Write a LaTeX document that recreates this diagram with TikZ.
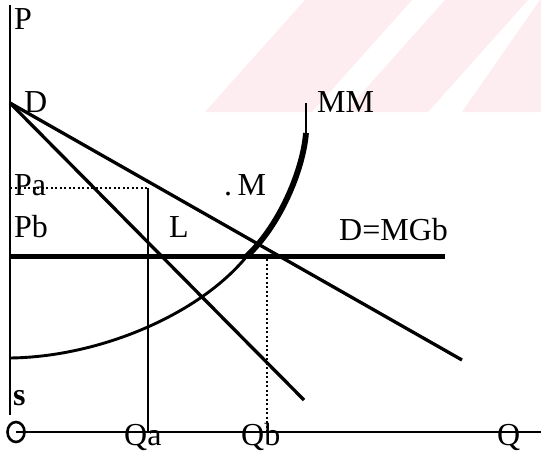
\documentclass[tikz,border=0pt]{standalone}
\usepackage{fontspec}
\setmainfont{Liberation Serif}
\definecolor{wm}{HTML}{FDEDF0}
\begin{document}
\begin{tikzpicture}[x=1pt,y=-1pt,
  lbl/.style={inner sep=0pt, anchor=base west, font=\fontsize{32}{36}\selectfont},
  paxis/.style={line width=2.1pt},
  qaxis/.style={line width=2.6pt},
  demand/.style={line width=3.3pt},
  mgb/.style={line width=5pt},
  dots/.style={line width=1.7pt, dash pattern=on 2pt off 2.5pt},
  band/.style={fill=wm, draw=none}]
\fill[white] (0,0) rectangle (541,452);
\useasboundingbox (0,0) rectangle (541,452);
% watermark
\begin{scope}
\clip (0,0) rectangle (541,112);
\fill[band] (305,0) -- (412,0) -- (312,112) -- (205,112) -- cycle;
\fill[band] (445,0) -- (528,0) -- (428,112) -- (345,112) -- cycle;
\fill[band] (540,0) -- (700,0) -- (600,112) -- (462,112) -- cycle;
\end{scope}
% coordinates
\coordinate (Ptop) at (10,5);
\coordinate (Pbot) at (10,415);
\coordinate (Dpt) at (10,103);
\coordinate (Dend1) at (304,400);
\coordinate (Dend2) at (462,360);
\coordinate (PaL) at (10,188);
\coordinate (PaR) at (148,188);
\coordinate (QaB) at (148,432);
\coordinate (MGbL) at (10,256);
\coordinate (MGbR) at (445,256);
\coordinate (QbT) at (267,259);
\coordinate (QbB) at (267,432);
\coordinate (Sstart) at (10,358);
\coordinate (Mjoin) at (247,256);
\coordinate (MMmid) at (306,133);
\coordinate (MMtop) at (306,103);
\coordinate (Oc) at (16,432);
\coordinate (Qright) at (541,432);
% axes
\draw[paxis] (Ptop) -- (Pbot);
\draw[qaxis] (Oc) -- (Qright);
\draw[line width=2.6pt] (Oc) ellipse [x radius=8.5, y radius=10];
% dotted guides
\draw[dots] (PaL) -- (PaR);
\draw[line width=2pt] (PaR) -- (QaB);
\draw[dots] (QbT) -- (QbB);
% demand lines
\draw[demand] (Dpt) -- (Dend1);
\draw[demand] (Dpt) -- (Dend2);
% D = MGb
\draw[mgb] (MGbL) -- (MGbR);
% MM curve
\draw[line width=2.9pt] (Sstart) .. controls (100,357) and (200,314) .. (Mjoin);
\draw[line width=5.8pt] (Mjoin) .. controls (280,225) and (303,170) .. (MMmid);
\draw[line width=2.4pt] (MMmid) -- (MMtop);
% labels
\node[lbl] (lP) at (14,30) {P};
\node[lbl] (lD) at (24,113) {D};
\node[lbl] (lPa) at (14,195) {Pa};
\node[lbl] (lPb) at (14,237) {Pb};
\node[lbl] (lL) at (169,237) {L};
\node[lbl] (lM) at (224,195) {.\,M};
\node[lbl] (lMM) at (317,113) {MM};
\node[lbl] (lDMGb) at (339,240) {D=MGb};
\node[lbl] (ls) at (13,405) {\textbf{s}};
\node[lbl] (lQa) at (124,445) {Qa};
\node[lbl] (lQb) at (241,445) {Qb};
\node[lbl] (lQ) at (497,445) {Q};
\end{tikzpicture}
\end{document}
